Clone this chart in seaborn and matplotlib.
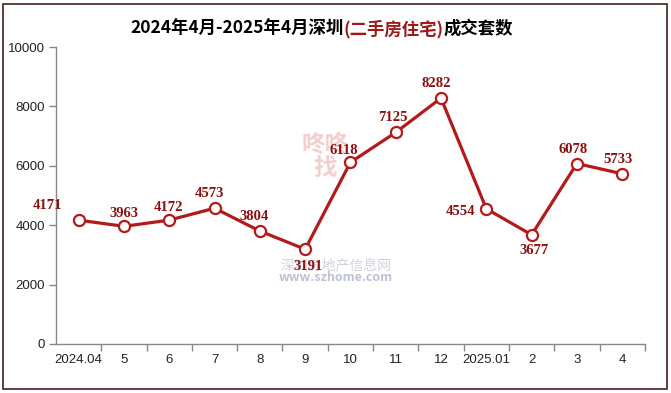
import matplotlib
matplotlib.use("Agg")
import matplotlib.pyplot as plt
import seaborn as sns
import pandas as pd
from matplotlib.patches import Rectangle

# data
months = ["2024.04", "5", "6", "7", "8", "9", "10", "11", "12", "2025.01", "2", "3", "4"]
deals = [4171, 3963, 4172, 4573, 3804, 3191, 6118, 7125, 8282, 4554, 3677, 6078, 5733]
# label offsets (pixels) relative to each point
label_dx = [-31, 0, -1, -5, -6, 3, -7, -3, -5, -26, 2, -4, -4]
label_dy = [15, 13, 13, 15, 15, -17, 12, 15, 15, -3, -16, 14, 14]

sns.set_theme(style="white")
plt.rcParams["font.family"] = ["Noto Sans CJK SC", "DejaVu Sans"]

red = "#B31B1B"
df = pd.DataFrame({"idx": range(len(months)), "deals": deals})

fig = plt.figure(figsize=(6.71, 3.93), dpi=100)
ax = fig.add_axes([0.0835, 0.1247, 0.8775, 0.7555])

# faint watermark
ax.text(0.457, 0.63, "咚咚\n找", transform=ax.transAxes, ha="center",
        va="center", fontsize=17, color="#f3d0d0", fontweight="bold",
        linespacing=1.0, zorder=0)
ax.text(0.475, 0.265, "深圳房地产信息网", transform=ax.transAxes, ha="center",
        va="center", fontsize=10, color="#d0d3dc", zorder=0)
ax.text(0.475, 0.225, "www.szhome.com", transform=ax.transAxes, ha="center",
        va="center", fontsize=9, color="#bcc1d4", style="italic",
        fontweight="bold", zorder=0)

sns.lineplot(data=df, x="idx", y="deals", ax=ax, color=red, linewidth=2.3,
             marker="o", markersize=8, markerfacecolor="white",
             markeredgecolor=red, markeredgewidth=1.6)

for i, v in enumerate(deals):
    ax.annotate(str(v), (i, v), xytext=(label_dx[i], label_dy[i]),
                textcoords="offset pixels", ha="center", va="center",
                color="#8B1010", fontsize=10.5, fontweight="bold",
                family="Liberation Serif")

ax.set_xlim(-0.5, len(months) - 0.5)
ax.set_ylim(0, 10000)
ax.set_yticks(range(0, 10001, 2000))
ax.set_yticklabels([str(t) for t in range(0, 10001, 2000)], fontsize=9.5,
                   family="Liberation Sans", color="#222222")
ax.set_xticks([i + 0.5 for i in range(len(months))])
ax.set_xticklabels([])
ax.set_xticks(range(len(months)), minor=True)
ax.set_xticklabels(months, minor=True, fontsize=9.5, family="Liberation Sans",
                   color="#222222")
ax.tick_params(axis="x", which="major", direction="out", length=5,
               color="#888888", width=1, bottom=True)
ax.tick_params(axis="x", which="minor", length=0, pad=7, bottom=True)
ax.tick_params(axis="y", direction="out", length=5, color="#888888",
               width=1, left=True, pad=3)
ax.set_xlabel("")
ax.set_ylabel("")
for s in ["top", "right"]:
    ax.spines[s].set_visible(False)
for s in ["left", "bottom"]:
    ax.spines[s].set_color("#888888")
    ax.spines[s].set_linewidth(1)

# title with red middle part
title_y = 0.927
parts = [("2024年4月-2025年4月深圳", "black"), ("(二手房住宅)", "#A01818"), ("成交套数", "black")]
r = fig.canvas.get_renderer()
x = 130 / 671
for txt, col in parts:
    t = fig.text(x, title_y, txt, fontsize=12.5, fontweight="bold",
                 color=col, va="center", ha="left")
    bb = t.get_window_extent(renderer=r)
    x += bb.width / fig.bbox.width

# figure border
fig.patches.append(Rectangle((0.004, 0.009), 0.99, 0.981, transform=fig.transFigure,
                             fill=False, edgecolor="#4a2020", linewidth=1.2))

fig.savefig("out.png", dpi=100)
